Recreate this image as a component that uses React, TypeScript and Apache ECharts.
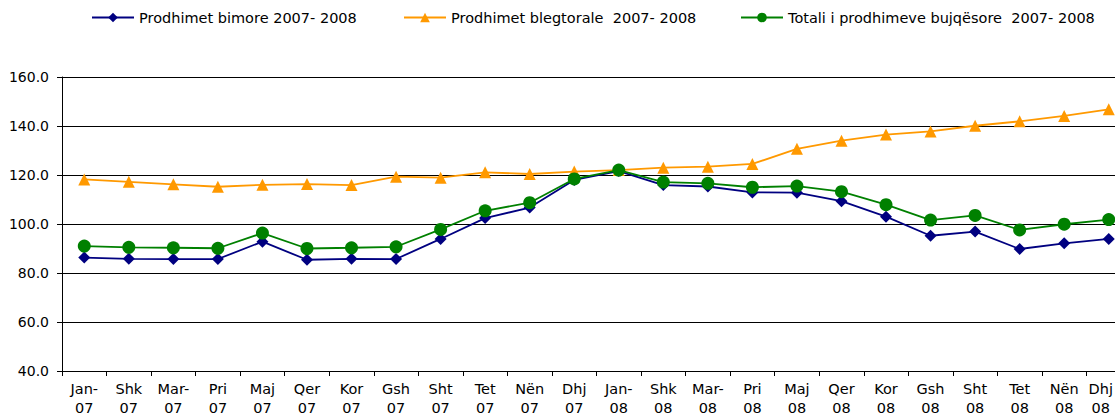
import React, { useEffect, useRef } from "react";
import * as echarts from "echarts";

const categories = [
  "Jan-\n07", "Shk\n07", "Mar-\n07", "Pri\n07", "Maj\n07", "Qer\n07", "Kor\n07", "Gsh\n07",
  "Sht\n07", "Tet\n07", "Nën\n07", "Dhj\n07",
  "Jan-\n08", "Shk\n08", "Mar-\n08", "Pri\n08", "Maj\n08", "Qer\n08", "Kor\n08", "Gsh\n08",
  "Sht\n08", "Tet\n08", "Nën\n08", "Dhj\n08",
];

const bimore = [
  86.3, 85.8, 85.7, 85.7, 92.8, 85.4, 85.8, 85.7, 93.9, 102.4, 106.7, 118.0,
  121.6, 115.9, 115.3, 112.9, 112.8, 109.3, 103.0, 95.2, 96.9, 89.8, 92.1, 93.9,
];
const blegtorale = [
  118.2, 117.2, 116.2, 115.2, 116.0, 116.3, 115.9, 119.3, 118.9, 121.1, 120.4, 121.4,
  122.0, 123.0, 123.4, 124.5, 130.7, 134.0, 136.5, 137.8, 140.1, 141.9, 144.1, 146.8,
];
const totali = [
  91.0, 90.5, 90.3, 90.1, 96.3, 90.0, 90.3, 90.7, 97.8, 105.4, 108.7, 118.4,
  122.0, 117.1, 116.6, 115.0, 115.5, 113.2, 107.9, 101.6, 103.5, 97.6, 99.9, 101.8,
];

const seriesNames = [
  "Prodhimet bimore 2007- 2008",
  "Prodhimet blegtorale  2007- 2008",
  "Totali i prodhimeve bujqësore  2007- 2008",
];
const seriesColors = ["#000080", "#FF9900", "#008000"];

const FONT = "'DejaVu Sans', Verdana, sans-serif";

export default function App() {
  const ref = useRef<HTMLDivElement>(null);
  useEffect(() => {
    if (!ref.current) return;
    const chart = echarts.init(ref.current, null, { renderer: "svg" });
    const legendLefts = [86, 398, 735];
    const lastIndex = categories.length - 1;
    chart.setOption({
      animation: false,
      backgroundColor: "#ffffff",
      textStyle: { fontFamily: FONT },
      legend: seriesNames.map((name, i) => ({
        left: legendLefts[i],
        top: 5,
        itemWidth: 42,
        itemHeight: 12,
        textStyle: { fontFamily: FONT, fontSize: 14.5, color: "#000" },
        data: [name],
      })),
      grid: { left: 62, right: 10, top: 77, bottom: 45.5 },
      xAxis: {
        type: "category",
        data: categories,
        boundaryGap: true,
        axisLine: { lineStyle: { color: "#000", width: 1 } },
        axisTick: { show: true, length: 5, lineStyle: { color: "#000" } },
        axisLabel: {
          color: "#000",
          fontSize: 14.5,
          fontFamily: FONT,
          interval: 0,
          margin: 9,
          lineHeight: 18.5,
          formatter: (value: string, index: number) => {
            if (index === lastIndex) {
              return value
                .split("\n")
                .map((s) => `{last|${s}}`)
                .join("\n");
            }
            return value;
          },
          rich: {
            last: {
              fontSize: 14.5,
              fontFamily: FONT,
              color: "#000",
              lineHeight: 18.5,
              padding: [0, 16, 0, 0],
            },
          },
        },
        splitLine: { show: false },
      },
      yAxis: {
        type: "value",
        min: 40,
        max: 160,
        interval: 20,
        axisLine: { show: true, lineStyle: { color: "#000", width: 1 } },
        axisTick: { show: true, length: 5, lineStyle: { color: "#000" } },
        axisLabel: {
          color: "#000",
          fontSize: 14,
          fontFamily: FONT,
          margin: 13,
          formatter: (v: number) => v.toFixed(1),
        },
        splitLine: { show: true, lineStyle: { color: "#000", width: 1 } },
      },
      series: [
        {
          name: seriesNames[0],
          type: "line",
          data: bimore,
          symbol: "diamond",
          symbolSize: 12,
          color: seriesColors[0],
          lineStyle: { width: 1.8, color: seriesColors[0] },
          itemStyle: { color: seriesColors[0] },
        },
        {
          name: seriesNames[1],
          type: "line",
          data: blegtorale,
          symbol: "triangle",
          symbolSize: 12,
          color: seriesColors[1],
          lineStyle: { width: 1.8, color: seriesColors[1] },
          itemStyle: { color: seriesColors[1] },
        },
        {
          name: seriesNames[2],
          type: "line",
          data: totali,
          symbol: "circle",
          symbolSize: 13,
          color: seriesColors[2],
          lineStyle: { width: 1.8, color: seriesColors[2] },
          itemStyle: { color: seriesColors[2] },
        },
      ],
    });
    return () => chart.dispose();
  }, []);
  return (
    <div
      style={{
        position: "fixed",
        left: 0,
        top: 0,
        width: 1115,
        height: 417,
        overflow: "hidden",
        background: "#fff",
      }}
    >
      <div ref={ref} style={{ width: 1141, height: 417 }} />
    </div>
  );
}
